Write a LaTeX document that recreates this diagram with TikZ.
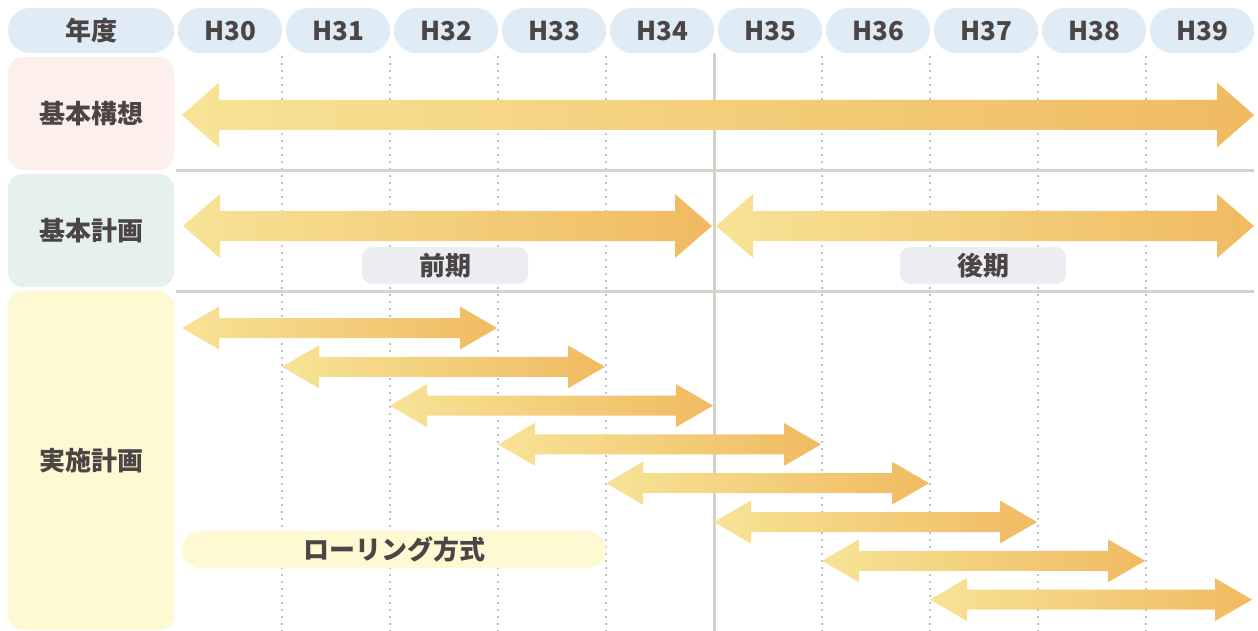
\documentclass[tikz,border=0pt]{standalone}
\usepackage{fontspec}
\setmainfont{Noto Sans CJK JP}
\definecolor{hdr}{HTML}{DFECF5}
\definecolor{pinkbg}{HTML}{FDF0EC}
\definecolor{greenbg}{HTML}{E7F1EB}
\definecolor{yellowbg}{HTML}{FDF9D2}
\definecolor{periodbg}{HTML}{ECEDF3}
\definecolor{txt}{HTML}{4B4546}
\definecolor{sepc}{HTML}{D5D1CB}
\definecolor{dotc}{HTML}{C0C0C0}
\definecolor{arrL}{HTML}{F7E396}
\definecolor{arrR}{HTML}{F0BA61}
\newcommand\dblarr[6]{% x1 x2 y headhalf shafthalf headlen
  \shade[left color=arrL,right color=arrR]
    (#1,#3) -- ({#1+#6},{#3-#4}) -- ({#1+#6},{#3-#5}) -- ({#2-#6},{#3-#5})
    -- ({#2-#6},{#3-#4}) -- (#2,#3) -- ({#2-#6},{#3+#4}) -- ({#2-#6},{#3+#5})
    -- ({#1+#6},{#3+#5}) -- ({#1+#6},{#3+#4}) -- cycle;}
\begin{document}
\begin{tikzpicture}[x=1pt,y=-1pt,
  lbl/.style={text=txt,font=\bfseries\fontsize{26}{26}\selectfont,inner sep=0pt},
  pill/.style={lbl,rectangle,fill=hdr,rounded corners=22pt,minimum height=45pt},
  rowbox/.style={lbl,rectangle,rounded corners=15pt,minimum width=166pt},
  period/.style={lbl,rectangle,fill=periodbg,rounded corners=10pt,minimum width=166pt,minimum height=37pt},
  dotline/.style={dotc,line width=1.7pt,dash pattern=on 1.7pt off 5.3pt},
  sepline/.style={sepc,line width=3pt}]
\useasboundingbox (0,0) rectangle (1258,631);
% header
\node[pill,minimum width=166pt] (hy) at (91,30.5) {年度};
\foreach \i/\t in {0/H30,1/H31,2/H32,3/H33,4/H34,5/H35,6/H36,7/H37,8/H38,9/H39}{
  \node[pill,minimum width=104pt] (h\i) at ({230+108*\i},30.5) {\t};
}
% grid lines
\foreach \k in {0,1,2,3,5,6,7,8}{
  \draw[dotline] ({282+108*\k},56) -- ({282+108*\k},631);
}
\draw[sepline] (714,53) -- (714,631);
\draw[sepline] (176,171) -- (1254,171);
\draw[sepline] (176,291) -- (1254,291);
% row labels
\node[rowbox,fill=pinkbg,minimum height=113pt] (r1) at (91,113.5) {基本構想};
\node[rowbox,fill=greenbg,minimum height=113pt] (r2) at (91,230.5) {基本計画};
\node[rowbox,fill=yellowbg,minimum height=339pt] (r3) at (91,460.5) {実施計画};
% arrows
\dblarr{182}{1254}{115}{32.5}{15}{37}
\dblarr{183}{712}{226}{32}{15}{37}
\dblarr{716}{1254}{226}{32}{15}{37}
\foreach \k in {1,...,8}{
  \pgfmathsetmacro\xa{max(182,174+108*(\k-1))}
  \pgfmathsetmacro\xb{min(1252,497+108*(\k-1))}
  \pgfmathsetmacro\yc{328+38.8*(\k-1)}
  \dblarr{\xa}{\xb}{\yc}{21.5}{10}{37}
}
% period labels
\node[period] (p1) at (445,265.5) {前期};
\node[period] (p2) at (983,265.5) {後期};
\node[lbl,rectangle,fill=yellowbg,rounded corners=18.5pt,minimum width=424pt,minimum height=37pt] (roll) at (394,549.5) {ローリング方式};
\end{tikzpicture}
\end{document}
